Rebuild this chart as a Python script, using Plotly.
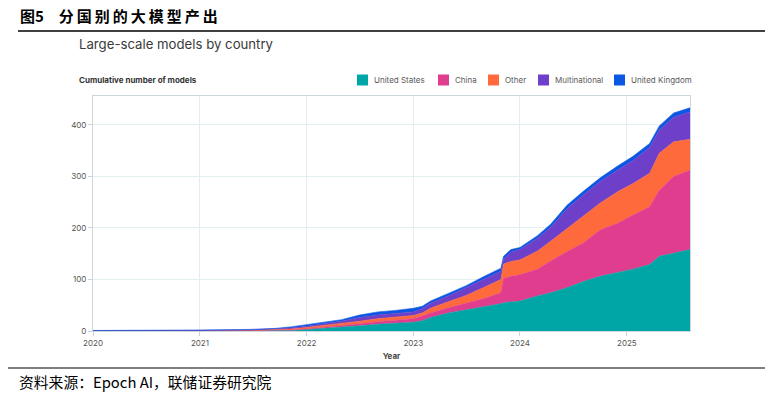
import plotly.graph_objects as go

# ---- data ----
dates = ["2020-01-01", "2020-07-01", "2021-01-01", "2021-06-15", "2021-09-15",
         "2021-11-07", "2022-01-01", "2022-03-01", "2022-05-01", "2022-07-01",
         "2022-09-01", "2022-11-01", "2023-01-01", "2023-02-01", "2023-03-01",
         "2023-05-01", "2023-07-01", "2023-09-01", "2023-10-28", "2023-11-06",
         "2023-12-01", "2024-01-01", "2024-03-01", "2024-04-15", "2024-06-10",
         "2024-08-05", "2024-10-01", "2024-11-30", "2025-01-22", "2025-03-20",
         "2025-04-22", "2025-06-10", "2025-08-05"]

united_states = [0, 0, 0, 0, 1, 1, 3, 5, 7, 10, 13, 15, 17, 20, 26, 35, 41, 47, 53, 55,
                 56, 58, 68, 74, 84, 96, 106, 113, 120, 129, 145, 151, 158]
china = [0, 0, 0, 0, 1, 1, 1, 2, 3, 4, 5, 6, 7, 9, 9, 10, 13, 16, 21, 47,
         50, 51, 52, 62, 70, 75, 90, 96, 105, 112, 128, 149, 154]
other = [0, 0, 0, 1, 1, 2, 3, 4, 4, 5, 6, 6, 6, 6, 9, 12, 15, 22, 26, 28,
         29, 29, 35, 38, 44, 51, 52, 61, 61, 65, 72, 67, 60]
multinational = [0, 0, 1, 1, 1, 2, 2, 3, 5, 7, 7, 7, 7, 8, 10, 11, 15, 16, 16, 9,
                 18, 20, 25, 27, 39, 42, 42, 42, 45, 50, 45, 48, 53]
united_kingdom = [1, 1, 1, 1, 1, 2, 3, 3, 3, 5, 6, 6, 7, 5, 4, 5, 4, 5, 6, 6,
                  5, 4, 5, 6, 7, 7, 7, 8, 8, 8, 8, 8, 8]

series_names = ["United States", "China", "Other", "Multinational", "United Kingdom"]
series_values = [united_states, china, other, multinational, united_kingdom]
series_colors = ["#00A6A6", "#E03D8F", "#FF6A3D", "#6E40C9", "#0B57E3"]

x_start, x_end = "2020-01-01", "2025-08-05"
y_max = 456

# ---- geometry helpers (pixel -> paper) ----
W, H = 771, 394
L, R, T, B = 93, 690, 96, 331


def pxx(x):
    return (x - L) / (R - L)


def pxy(y):
    return (B - y) / (B - T)


fig = go.Figure()

for name, vals, col in zip(series_names, series_values, series_colors):
    fig.add_trace(go.Scatter(
        x=dates, y=vals, name=name, stackgroup="one", mode="lines",
        line=dict(color=col, width=0.6), fillcolor=col, showlegend=False,
        hovertemplate=name + ": %{y}<extra></extra>"))

fig.update_layout(
    width=W, height=H,
    margin=dict(l=L, r=W - R, t=T, b=H - B),
    paper_bgcolor="white", plot_bgcolor="white",
    showlegend=False,
    xaxis=dict(type="date", range=[x_start, x_end], dtick="M12", tick0="2020-01-01",
               tickformat="%Y", showgrid=True, gridcolor="#E4EEF0", gridwidth=1,
               ticks="outside", ticklen=4, tickcolor="#C9D3D8",
               tickfont=dict(family="Inter, Open Sans, sans-serif", size=8, color="#555"),
               showline=True, linecolor="#CCD6DB", linewidth=1, mirror=True,
               zeroline=False,
               title=dict(text="<b>Year</b>", standoff=6,
                          font=dict(family="Inter, Open Sans, sans-serif", size=8, color="#444"))),
    yaxis=dict(range=[0, y_max], dtick=100, showgrid=True, gridcolor="#E4EEF0",
               ticks="outside", ticklen=4, tickcolor="#C9D3D8",
               tickfont=dict(family="Inter, Open Sans, sans-serif", size=8, color="#555"),
               showline=True, linecolor="#CCD6DB", linewidth=1, mirror=True,
               zeroline=False),
)

annotations = [
    dict(text="<b>图5\u2003分\u2009国\u2009别\u2009的\u2009大\u2009模\u2009型\u2009产\u2009出</b>",
         x=pxx(18), y=pxy(15), xanchor="left", yanchor="middle",
         font=dict(family="Noto Sans CJK SC", size=15, color="#000")),
    dict(text="Large-scale models by country", x=pxx(77), y=pxy(44),
         xanchor="left", yanchor="middle",
         font=dict(family="Inter, Open Sans, sans-serif", size=13.2, color="#3a3a3a")),
    dict(text="<b>Cumulative number of models</b>", x=pxx(77), y=pxy(80),
         xanchor="left", yanchor="middle",
         font=dict(family="Inter, Open Sans, sans-serif", size=8, color="#333")),
    dict(text="资料来源：Epoch AI，联储证券研究院", x=pxx(17), y=pxy(381),
         xanchor="left", yanchor="middle",
         font=dict(family="Noto Sans CJK SC", size=14.8, color="#000")),
]

shapes = [
    dict(type="line", xref="paper", yref="paper", x0=pxx(18), x1=pxx(765),
         y0=pxy(31), y1=pxy(31), line=dict(color="#000", width=1.5)),
    dict(type="line", xref="paper", yref="paper", x0=pxx(8), x1=pxx(765),
         y0=pxy(368), y1=pxy(368), line=dict(color="#000", width=1.2)),
]

# hand-built legend: square swatch + label
legend_x = [357, 438, 488, 538, 614]
for name, col, lx in zip(series_names, series_colors, legend_x):
    shapes.append(dict(type="rect", xref="paper", yref="paper",
                       x0=pxx(lx), x1=pxx(lx + 11), y0=pxy(85.5), y1=pxy(74.5),
                       fillcolor=col, line=dict(width=0)))
    annotations.append(dict(text=name, x=pxx(lx + 15), y=pxy(80),
                            xanchor="left", yanchor="middle",
                            font=dict(family="Inter, Open Sans, sans-serif", size=8,
                                      color="#5a5a5a")))

for a in annotations:
    a.update(xref="paper", yref="paper", showarrow=False)
fig.update_layout(annotations=annotations, shapes=shapes)

fig.write_html("out.html", config={"displayModeBar": False},
               post_script="document.body.style.margin='0';document.body.style.overflow='hidden';")
